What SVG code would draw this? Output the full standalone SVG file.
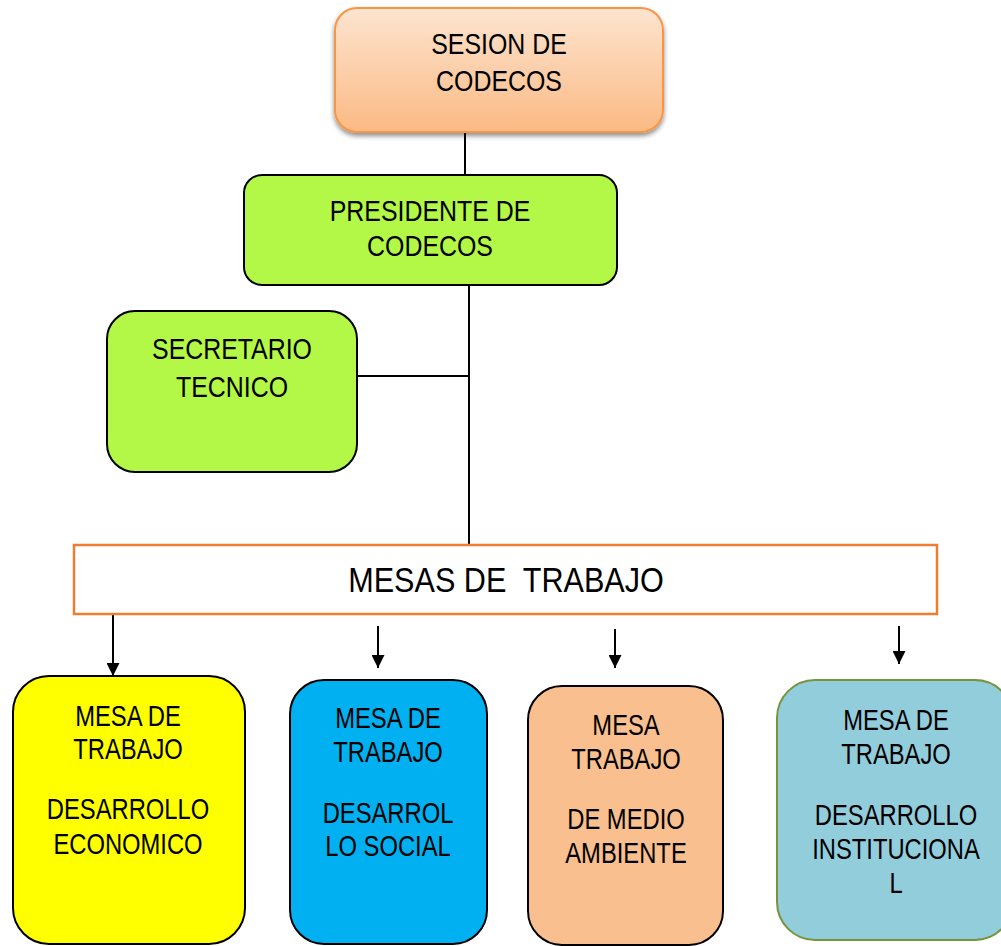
<svg xmlns="http://www.w3.org/2000/svg" width="1001" height="946" viewBox="0 0 1001 946">
<style>
.t{font-family:"Liberation Sans",Arial,sans-serif;fill:#000;text-anchor:middle}
.f29{font-size:30px}
.f28{font-size:29px}
.f35{font-size:36px}
.ln{stroke:#000;stroke-width:2;fill:none}
.box{stroke:#000;stroke-width:2}
</style>
<defs>
<linearGradient id="gOr" x1="0" y1="0" x2="0" y2="1">
<stop offset="0" stop-color="#FDE4D0"/>
<stop offset="1" stop-color="#FBBA84"/>
</linearGradient>
<filter id="sh" x="-10%" y="-10%" width="120%" height="130%">
<feGaussianBlur in="SourceAlpha" stdDeviation="2.5"/>
<feOffset dx="0" dy="3" result="b"/>
<feComponentTransfer><feFuncA type="linear" slope="0.45"/></feComponentTransfer>
<feMerge><feMergeNode/><feMergeNode in="SourceGraphic"/></feMerge>
</filter>
<marker id="ah" viewBox="0 0 14 14" refX="14" refY="7" markerWidth="14" markerHeight="13" markerUnits="userSpaceOnUse" orient="auto">
<path d="M0,0 L14,7 L0,14 z" fill="#000"/>
</marker>
</defs>
<rect width="1001" height="946" fill="#fff"/>

<g id="connectors">
<line class="ln" x1="465" y1="126" x2="465" y2="175"/>
<line class="ln" x1="469" y1="285" x2="469" y2="545"/>
<line class="ln" x1="357" y1="376" x2="469" y2="376"/>
<line class="ln" x1="113" y1="614" x2="113" y2="676" marker-end="url(#ah)"/>
<line class="ln" x1="378" y1="626" x2="378" y2="668" marker-end="url(#ah)"/>
<line class="ln" x1="615" y1="629" x2="615" y2="668" marker-end="url(#ah)"/>
<line class="ln" x1="899" y1="626" x2="899" y2="664" marker-end="url(#ah)"/>
</g>

<g id="sesion">
<rect x="335" y="8" width="328" height="124" rx="22" fill="url(#gOr)" stroke="#F79646" stroke-width="2" filter="url(#sh)"/>
<text class="t f29" transform="translate(499,54) scale(0.83,1)">SESION DE</text>
<text class="t f29" transform="translate(499,91) scale(0.83,1)">CODECOS</text>
</g>

<g id="presidente">
<rect x="244" y="175" width="373" height="110" rx="18" fill="#B3F846" class="box"/>
<text class="t f29" transform="translate(430,221) scale(0.83,1)">PRESIDENTE DE</text>
<text class="t f29" transform="translate(430,256) scale(0.83,1)">CODECOS</text>
</g>

<g id="secretario">
<rect x="107" y="311" width="250" height="161" rx="28" fill="#B3F846" class="box"/>
<text class="t f29" transform="translate(232,359) scale(0.83,1)">SECRETARIO</text>
<text class="t f29" transform="translate(232,397) scale(0.83,1)">TECNICO</text>
</g>

<g id="mesas">
<rect x="74" y="545" width="863" height="69" fill="#fff" stroke="#ED7D31" stroke-width="2.5"/>
<text class="t f35" transform="translate(506,592) scale(0.85,1)" xml:space="preserve">MESAS DE  TRABAJO</text>
</g>

<g id="economico">
<rect x="13" y="676" width="232" height="268" rx="36" fill="#FFFF00" class="box"/>
<text class="t f28" transform="translate(128,726) scale(0.82,1)">MESA DE</text>
<text class="t f28" transform="translate(128,759) scale(0.82,1)">TRABAJO</text>
<text class="t f28" transform="translate(128,819) scale(0.82,1)">DESARROLLO</text>
<text class="t f28" transform="translate(128,854) scale(0.82,1)">ECONOMICO</text>
</g>

<g id="social">
<rect x="290" y="680" width="197" height="264" rx="34" fill="#00B0F0" class="box"/>
<text class="t f28" transform="translate(388,728) scale(0.82,1)">MESA DE</text>
<text class="t f28" transform="translate(388,762) scale(0.82,1)">TRABAJO</text>
<text class="t f28" transform="translate(388,823) scale(0.82,1)">DESARROL</text>
<text class="t f28" transform="translate(388,856) scale(0.82,1)">LO SOCIAL</text>
</g>

<g id="ambiente">
<rect x="528" y="686" width="195" height="259" rx="34" fill="#F9BF8F" class="box"/>
<text class="t f28" transform="translate(626,735) scale(0.82,1)">MESA</text>
<text class="t f28" transform="translate(626,769) scale(0.82,1)">TRABAJO</text>
<text class="t f28" transform="translate(626,829) scale(0.82,1)">DE MEDIO</text>
<text class="t f28" transform="translate(626,863) scale(0.82,1)">AMBIENTE</text>
</g>

<g id="institucional">
<rect x="777" y="680" width="236" height="260" rx="38" fill="#92CDDC" stroke="#77933C" stroke-width="2"/>
<text class="t f28" transform="translate(896,730) scale(0.82,1)">MESA DE</text>
<text class="t f28" transform="translate(896,764) scale(0.82,1)">TRABAJO</text>
<text class="t f28" transform="translate(896,825) scale(0.82,1)">DESARROLLO</text>
<text class="t f28" transform="translate(896,859) scale(0.82,1)">INSTITUCIONA</text>
<text class="t f28" transform="translate(896,893) scale(0.82,1)">L</text>
</g>
</svg>
